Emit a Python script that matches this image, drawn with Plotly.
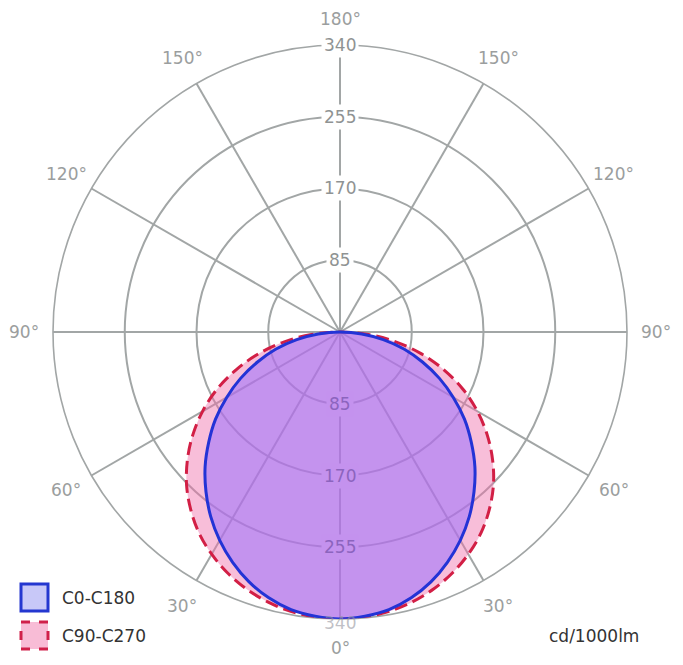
import math
import plotly.graph_objects as go

# ---- data ----
angles_deg = [0, 5, 10, 15, 20, 25, 30, 35, 40, 45, 50, 55, 60, 65, 70, 75, 80, 85, 90]
c0_c180 = [340, 338, 334, 326, 315, 301, 285, 267, 247, 226, 203, 180, 155, 130, 104, 79, 52, 26, 0]
c90_c270 = [340, 339, 336, 331, 324, 315, 304, 291, 275, 257, 236, 213, 188, 161, 131, 100, 67, 34, 0]
radial_ticks = [85, 170, 255, 340]
angle_ticks = [0, 30, 60, 90, 120, 150, 180]
series_names = ["C0-C180", "C90-C270"]
unit_label = "cd/1000lm"

# ---- layout constants ----
W, H = 683, 665
OFF = 8  # page body margin of the browser
CX, CY, R = 340 - OFF, 332 - OFF, 287
RMAX = 340
FONT = "DejaVu Sans"

def full_curve(vals):
    th = [-a for a in reversed(angles_deg)] + angles_deg[1:]
    rr = list(reversed(vals)) + vals[1:]
    return rr, th

fig = go.Figure()

r_red, t_red = full_curve(c90_c270)
fig.add_trace(go.Scatterpolar(
    r=r_red, theta=t_red, mode="lines", fill="toself",
    fillcolor="rgba(240,110,170,0.45)",
    line=dict(color="#d21f45", width=3, dash="13px,6px", shape="spline"),
    name=series_names[1], showlegend=False, hoverinfo="skip"))

r_blue, t_blue = full_curve(c0_c180)
fig.add_trace(go.Scatterpolar(
    r=r_blue, theta=t_blue, mode="lines", fill="toself",
    fillcolor="rgba(153,111,255,0.55)",
    line=dict(color="#2333d6", width=3, shape="spline"),
    name=series_names[0], showlegend=False, hoverinfo="skip"))

grid = "#a2a6a6"
fig.update_layout(
    width=W, height=H,
    margin=dict(l=0, r=0, t=0, b=0),
    paper_bgcolor="white",
    showlegend=False,
    polar=dict(
        domain=dict(x=[(CX - R) / W, (CX + R) / W],
                    y=[(H - CY - R) / H, (H - CY + R) / H]),
        bgcolor="white",
        angularaxis=dict(rotation=270, direction="counterclockwise",
                         tickvals=list(range(0, 360, 30)), showticklabels=False,
                         ticks="", showgrid=True, gridcolor=grid, gridwidth=1.5,
                         showline=True, linecolor=grid, linewidth=1.6,
                         layer="below traces"),
        radialaxis=dict(range=[0, RMAX], tickvals=radial_ticks, showticklabels=False,
                        ticks="", showgrid=True, gridcolor=grid, gridwidth=1.5,
                        showline=False, layer="below traces"),
    ),
)

def to_paper(px, py):
    return px / W, 1 - py / H

ann = []
# angle labels
RL = 316
for a in angle_ticks:
    sides = [1] if a in (0, 180) else [-1, 1]
    rl = 313 if a == 180 else RL
    for s in sides:
        px = CX + s * rl * math.sin(math.radians(a))
        py = CY + rl * math.cos(math.radians(a))
        x, y = to_paper(px, py)
        ann.append(dict(x=x, y=y, xref="paper", yref="paper", text=f"{a}°",
                        showarrow=False, xanchor="center", yanchor="middle",
                        font=dict(family=FONT, size=17, color="#9b9e9e")))
# radial labels (top: white bg, bottom: inside fill)
for v in radial_ticks:
    d = v / RMAX * R
    x, y = to_paper(CX, CY - d)
    ann.append(dict(x=x, y=y, xref="paper", yref="paper", text=str(v),
                    showarrow=False, xanchor="center", yanchor="middle",
                    bgcolor="white", borderpad=2,
                    font=dict(family=FONT, size=17, color="#8f9393")))
    x, y = to_paper(CX, CY + d)
    if v < RMAX:
        ann.append(dict(x=x, y=y, xref="paper", yref="paper", text=str(v),
                        showarrow=False, xanchor="center", yanchor="middle",
                        bgcolor="rgb(196,146,238)", borderpad=2,
                        font=dict(family=FONT, size=17, color="rgb(140,100,190)")))
    else:
        ann.append(dict(x=x, y=y - 4 / H, xref="paper", yref="paper", text=str(v),
                        showarrow=False, xanchor="center", yanchor="middle",
                        font=dict(family=FONT, size=17, color="rgba(150,150,160,0.6)")))

# legend
legend_items = [
    (series_names[0], 584 - OFF, "#c8c8f8", "#2437d0", "solid"),
    (series_names[1], 622 - OFF, "#f8bcd6", "#d0204a", "dash"),
]
shapes = []
for name, top, fc, lc, dash in legend_items:
    x0, y1 = to_paper(21 - OFF, top)
    x1, y0 = to_paper(48 - OFF, top + 27)
    shapes.append(dict(type="rect", xref="paper", yref="paper", x0=x0, x1=x1, y0=y0, y1=y1,
                       fillcolor=fc, line=dict(color=lc, width=3, dash=dash)))
    tx, ty = to_paper(60 - OFF, top + 13.5)
    ann.append(dict(x=tx, y=ty, xref="paper", yref="paper", text=name, showarrow=False,
                    xanchor="left", yanchor="middle",
                    font=dict(family=FONT, size=17, color="#333333")))
ux, uy = to_paper(641 - OFF, 636 - OFF)
ann.append(dict(x=ux, y=uy, xref="paper", yref="paper", text=unit_label, showarrow=False,
                xanchor="right", yanchor="middle",
                font=dict(family=FONT, size=17, color="#333333")))

fig.update_layout(annotations=ann, shapes=shapes)
fig.write_html("out.html")
